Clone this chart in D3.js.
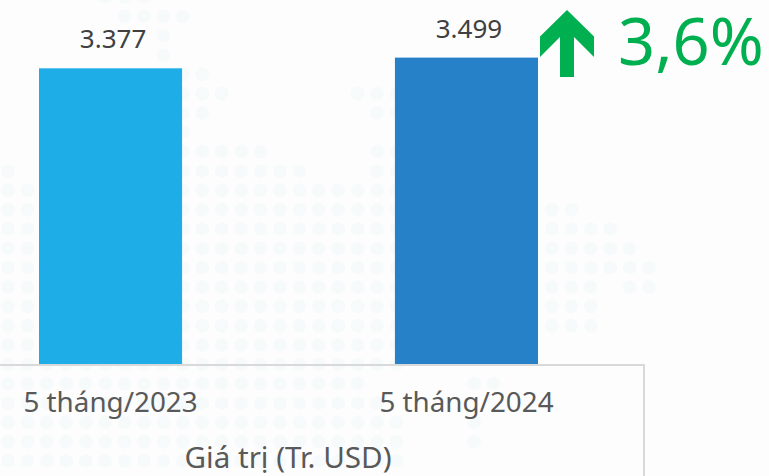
<!DOCTYPE html>
<html>
<head>
<meta charset="utf-8">
<script src="https://cdn.jsdelivr.net/npm/d3@7"></script>
<style>
  html, body { margin: 0; padding: 0; background: #fdfdfd; }
  svg { display: block; }
  text { font-family: "Noto Sans", sans-serif; }
</style>
</head>
<body>
<div id="chart"></div>
<script>
// Chart values
const categories = ["5 tháng/2023", "5 tháng/2024"];
const values = [3377, 3499];
const valueLabels = ["3.377", "3.499"];
const barColors = ["#1eade6", "#2681c8"];
const axisTitle = "Giá trị (Tr. USD)";
const changeLabel = "3,6%";

// Faint dotted map behind the chart: [row, first column, last column]
const mapRuns = [
  [0, 5, 7], [1, 6, 9], [2, 8, 8], [3, 8, 8], [4, 9, 10],
  [5, 9, 11], [5, 18, 20], [6, 9, 10], [6, 19, 20], [7, 9, 9],
  [8, 9, 13], [8, 19, 20], [9, 0, 0], [9, 9, 15], [9, 19, 20],
  [10, 0, 20], [11, 0, 20], [11, 28, 29], [12, 0, 20], [12, 28, 31],
  [13, 0, 20], [13, 28, 32], [14, 0, 20], [14, 28, 33], [15, 0, 20],
  [15, 28, 30], [15, 32, 33], [16, 0, 20], [16, 28, 30], [17, 0, 20],
  [17, 28, 30], [18, 0, 20], [19, 0, 20], [20, 0, 18], [20, 24, 25],
  [21, 0, 19], [22, 0, 20], [22, 24, 24], [23, 0, 20], [23, 24, 24],
  [24, 0, 20]
];

const width = 769;
const height = 476;
const baseline = 365;

const svg = d3.select("#chart").append("svg")
  .attr("width", width)
  .attr("height", height);

svg.append("rect")
  .attr("width", width)
  .attr("height", height)
  .attr("fill", "#fdfdfd");

// Background dots
const col = d3.scaleLinear().domain([0, 33]).range([8, 649]);
const row = d3.scaleLinear().domain([0, 24]).range([-3, 461]);
const mapDots = mapRuns.flatMap(([r, from, to]) =>
  d3.range(from, to + 1).map(c => ({r, c})));

svg.append("g")
  .selectAll("circle")
  .data(mapDots)
  .join("circle")
    .attr("cx", d => col(d.c))
    .attr("cy", d => row(d.r))
    .attr("r", 6.8)
    .attr("fill", "#f7fafa");

// Scales
const x = d3.scaleBand()
  .domain(categories)
  .range([39, 538])
  .paddingInner(0.598)
  .paddingOuter(0);

const y = d3.scaleLinear()
  .domain([0, 3499])
  .range([baseline, 57.6]);

// Bars
svg.append("g")
  .selectAll("rect")
  .data(values)
  .join("rect")
    .attr("x", (d, i) => x(categories[i]))
    .attr("y", d => y(d))
    .attr("width", x.bandwidth())
    .attr("height", d => baseline - y(d))
    .attr("fill", (d, i) => barColors[i]);

// Value labels
svg.append("g")
  .selectAll("text")
  .data(values)
  .join("text")
    .attr("x", (d, i) => x(categories[i]) + x.bandwidth() / 2 + 2.5)
    .attr("y", d => y(d) - 20)
    .attr("text-anchor", "middle")
    .attr("font-size", 26)
    .attr("fill", "#404040")
    .text((d, i) => valueLabels[i]);

// Axis frame
const frame = d3.line()([[0, baseline], [644, baseline], [644, height]]);
svg.append("path")
  .attr("d", frame)
  .attr("fill", "none")
  .attr("stroke", "#d9d9d9")
  .attr("stroke-width", 2);

// Category labels
const xAxis = svg.append("g")
  .attr("transform", `translate(0,${baseline})`)
  .call(d3.axisBottom(x).tickSize(0).tickPadding(27));
xAxis.select(".domain").remove();
xAxis.selectAll("text")
  .attr("font-size", 27.8)
  .attr("font-family", '"Noto Sans", sans-serif')
  .attr("fill", "#595959");

svg.append("text")
  .attr("x", 288)
  .attr("y", 468)
  .attr("text-anchor", "middle")
  .attr("font-size", 29.6)
  .attr("fill", "#595959")
  .text(axisTitle);

// Growth arrow and percentage
const arrow = [[0, -33.5], [27, -7], [27, 13.5], [7, -6.5], [7, 33.5],
  [-7, 33.5], [-7, -6.5], [-27, 13.5], [-27, -7]];
svg.append("path")
  .attr("transform", "translate(567,43.5)")
  .attr("d", d3.line()(arrow) + "Z")
  .attr("fill", "#00b050");

svg.append("text")
  .attr("x", 618)
  .attr("y", 65)
  .attr("font-size", 65)
  .attr("fill", "#00b050")
  .text(changeLabel);
</script>
</body>
</html>
